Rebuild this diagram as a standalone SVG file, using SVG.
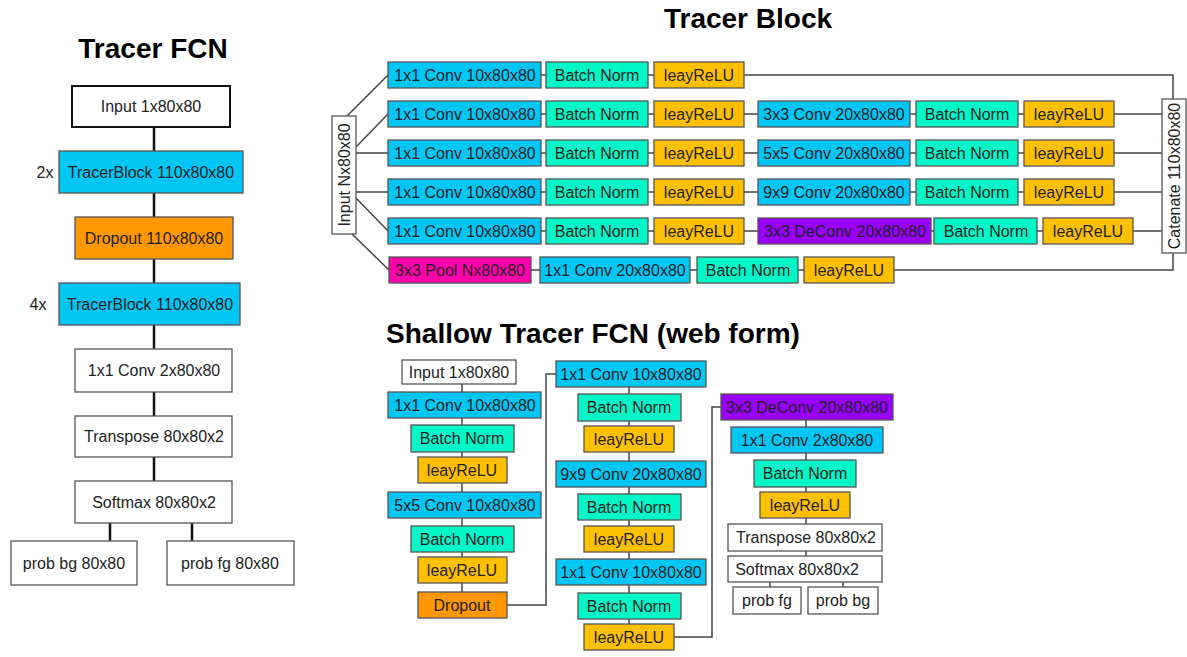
<svg xmlns="http://www.w3.org/2000/svg" width="1187" height="657" viewBox="0 0 1187 657">
<style>
text{font-family:"Liberation Sans",Arial,sans-serif;font-size:16px;fill:#222;text-anchor:middle}
.title{font-size:28px;font-weight:bold;fill:#000}
.n rect{stroke:#555;stroke-width:1.3}
.w{fill:#fff}.cy{fill:#00C6F6}.bn{fill:#00F8C8}.re{fill:#FFC000}.dr{fill:#FF9800}.po{fill:#FF00AA}.dc{fill:#9900FF}
.lc{fill:none;stroke:#111;stroke-width:2.5}
.c{fill:none;stroke:#444;stroke-width:1.5}
</style>
<rect width="1187" height="657" fill="#fff"/>
<text class="title" x="153" y="58">Tracer FCN</text>
<text class="title" x="748" y="28">Tracer Block</text>
<text class="title" x="593" y="343">Shallow Tracer FCN (web form)</text>

<g id="connectors">
<path class="lc" d="M154,127V151M154,193V217M154,259V283M154,325V349M154,392V416M154,457V481M110,523V541M192,523V541"/>
<path class="c" d="M347,116L388,75M356,147L388,114M356,153H388M356,192H388M356,198L388,231M352,234L389,270"/>
<path class="c" d="M541,75H546M648,75H654M744,75H1173V99M541,114H546M648,114H654M744,114H758M910,114H916M1018,114H1024M1114,114H1162M541,153H546M648,153H654M744,153H758M910,153H916M1018,153H1024M1114,153H1162M541,192H546M648,192H654M744,192H758M910,192H916M1018,192H1024M1114,192H1162M541,231H546M648,231H654M744,231H758M931,231H934M1037,231H1043M1133,231H1162M531,270H540M690,270H697M798,270H804M894,270H1173V253"/>
<path class="c" d="M462,384V392M462,418V425M462,452V457M462,483V492M462,518V526M462,552V557M462,583V592M507,605H546V374H556M629,387V394M629,421V426M629,452V461M629,487V494M629,520V526M629,552V559M629,585V593M629,619V624M674,637H712V407H721M806,420V427M806,453V460M806,487V492M806,518V524M806,551V556M770,582V587M843,582V587"/>
</g>

<g class="n">
<g id="fcn-input"><rect class="w" x="72" y="86" width="158" height="41" style="stroke:#111;stroke-width:2"/><text x="151" y="112">Input 1x80x80</text></g>
<g id="fcn-tb1"><rect class="cy" x="59" y="151" width="184" height="42"/><text x="151" y="178">TracerBlock 110x80x80</text><text x="45" y="178">2x</text></g>
<g id="fcn-dropout"><rect class="dr" x="75" y="217" width="158" height="42"/><text x="154" y="244">Dropout 110x80x80</text></g>
<g id="fcn-tb2"><rect class="cy" x="59" y="283" width="181" height="42"/><text x="150" y="310">TracerBlock 110x80x80</text><text x="38" y="310">4x</text></g>
<g id="fcn-conv"><rect class="w" x="75" y="349" width="157" height="43"/><text x="154" y="376">1x1 Conv 2x80x80</text></g>
<g id="fcn-transpose"><rect class="w" x="75" y="416" width="157" height="41"/><text x="154" y="442">Transpose 80x80x2</text></g>
<g id="fcn-softmax"><rect class="w" x="75" y="481" width="157" height="42"/><text x="154" y="508">Softmax 80x80x2</text></g>
<g id="fcn-probbg"><rect class="w" x="11" y="541" width="126" height="44"/><text x="74" y="569">prob bg 80x80</text></g>
<g id="fcn-probfg"><rect class="w" x="167" y="541" width="127" height="44"/><text x="230" y="569">prob fg 80x80</text></g>

<g id="tb-input"><rect class="w" x="332" y="116" width="24" height="118"/><text transform="translate(349.5,175) rotate(-90)">Input Nx80x80</text></g>
<g id="tb-catenate"><rect class="w" x="1162" y="99" width="24" height="154"/><text transform="translate(1179.5,176) rotate(-90)">Catenate 110x80x80</text></g>

<g id="tb-r1">
<rect class="cy" x="388" y="62" width="153" height="26"/><text x="465" y="81">1x1 Conv 10x80x80</text>
<rect class="bn" x="546" y="62" width="102" height="26"/><text x="597" y="81">Batch Norm</text>
<rect class="re" x="654" y="62" width="90" height="26"/><text x="699" y="81">leayReLU</text>
</g>
<g id="tb-r2">
<rect class="cy" x="388" y="101" width="153" height="26"/><text x="465" y="120">1x1 Conv 10x80x80</text>
<rect class="bn" x="546" y="101" width="102" height="26"/><text x="597" y="120">Batch Norm</text>
<rect class="re" x="654" y="101" width="90" height="26"/><text x="699" y="120">leayReLU</text>
<rect class="cy" x="758" y="101" width="152" height="26"/><text x="834" y="120">3x3 Conv 20x80x80</text>
<rect class="bn" x="916" y="101" width="102" height="26"/><text x="967" y="120">Batch Norm</text>
<rect class="re" x="1024" y="101" width="90" height="26"/><text x="1069" y="120">leayReLU</text>
</g>
<g id="tb-r3">
<rect class="cy" x="388" y="140" width="153" height="26"/><text x="465" y="159">1x1 Conv 10x80x80</text>
<rect class="bn" x="546" y="140" width="102" height="26"/><text x="597" y="159">Batch Norm</text>
<rect class="re" x="654" y="140" width="90" height="26"/><text x="699" y="159">leayReLU</text>
<rect class="cy" x="758" y="140" width="152" height="26"/><text x="834" y="159">5x5 Conv 20x80x80</text>
<rect class="bn" x="916" y="140" width="102" height="26"/><text x="967" y="159">Batch Norm</text>
<rect class="re" x="1024" y="140" width="90" height="26"/><text x="1069" y="159">leayReLU</text>
</g>
<g id="tb-r4">
<rect class="cy" x="388" y="179" width="153" height="26"/><text x="465" y="198">1x1 Conv 10x80x80</text>
<rect class="bn" x="546" y="179" width="102" height="26"/><text x="597" y="198">Batch Norm</text>
<rect class="re" x="654" y="179" width="90" height="26"/><text x="699" y="198">leayReLU</text>
<rect class="cy" x="758" y="179" width="152" height="26"/><text x="834" y="198">9x9 Conv 20x80x80</text>
<rect class="bn" x="916" y="179" width="102" height="26"/><text x="967" y="198">Batch Norm</text>
<rect class="re" x="1024" y="179" width="90" height="26"/><text x="1069" y="198">leayReLU</text>
</g>
<g id="tb-r5">
<rect class="cy" x="388" y="218" width="153" height="26"/><text x="465" y="237">1x1 Conv 10x80x80</text>
<rect class="bn" x="546" y="218" width="102" height="26"/><text x="597" y="237">Batch Norm</text>
<rect class="re" x="654" y="218" width="90" height="26"/><text x="699" y="237">leayReLU</text>
<rect class="dc" x="758" y="218" width="173" height="26"/><text x="845" y="237">3x3 DeConv 20x80x80</text>
<rect class="bn" x="934" y="218" width="103" height="26"/><text x="986" y="237">Batch Norm</text>
<rect class="re" x="1043" y="218" width="90" height="26"/><text x="1088" y="237">leayReLU</text>
</g>
<g id="tb-r6">
<rect class="po" x="389" y="257" width="142" height="26"/><text x="460" y="276">3x3 Pool Nx80x80</text>
<rect class="cy" x="540" y="257" width="150" height="26"/><text x="615" y="276">1x1 Conv 20x80x80</text>
<rect class="bn" x="697" y="257" width="101" height="26"/><text x="748" y="276">Batch Norm</text>
<rect class="re" x="804" y="257" width="90" height="26"/><text x="849" y="276">leayReLU</text>
</g>

<g id="st-col1">
<rect class="w" x="402" y="360" width="114" height="24"/><text x="459" y="378">Input 1x80x80</text>
<rect class="cy" x="388" y="392" width="153" height="26"/><text x="465" y="411">1x1 Conv 10x80x80</text>
<rect class="bn" x="411" y="425" width="103" height="27"/><text x="462" y="444">Batch Norm</text>
<rect class="re" x="418" y="457" width="89" height="26"/><text x="462" y="476">leayReLU</text>
<rect class="cy" x="388" y="492" width="153" height="26"/><text x="465" y="511">5x5 Conv 10x80x80</text>
<rect class="bn" x="411" y="526" width="103" height="26"/><text x="462" y="545">Batch Norm</text>
<rect class="re" x="418" y="557" width="89" height="26"/><text x="462" y="576">leayReLU</text>
<rect class="dr" x="418" y="592" width="89" height="26"/><text x="462" y="611">Dropout</text>
</g>
<g id="st-col2">
<rect class="cy" x="556" y="361" width="150" height="26"/><text x="631" y="380">1x1 Conv 10x80x80</text>
<rect class="bn" x="578" y="394" width="103" height="27"/><text x="629" y="413">Batch Norm</text>
<rect class="re" x="584" y="426" width="90" height="26"/><text x="629" y="445">leayReLU</text>
<rect class="cy" x="556" y="461" width="150" height="26"/><text x="631" y="480">9x9 Conv 20x80x80</text>
<rect class="bn" x="578" y="494" width="103" height="26"/><text x="629" y="513">Batch Norm</text>
<rect class="re" x="584" y="526" width="90" height="26"/><text x="629" y="545">leayReLU</text>
<rect class="cy" x="556" y="559" width="150" height="26"/><text x="631" y="578">1x1 Conv 10x80x80</text>
<rect class="bn" x="578" y="593" width="103" height="26"/><text x="629" y="612">Batch Norm</text>
<rect class="re" x="584" y="624" width="90" height="26"/><text x="629" y="643">leayReLU</text>
</g>
<g id="st-col3">
<rect class="dc" x="721" y="394" width="172" height="26"/><text x="807" y="413">3x3 DeConv 20x80x80</text>
<rect class="cy" x="731" y="427" width="152" height="26"/><text x="807" y="446">1x1 Conv 2x80x80</text>
<rect class="bn" x="754" y="460" width="102" height="27"/><text x="805" y="479">Batch Norm</text>
<rect class="re" x="760" y="492" width="90" height="26"/><text x="805" y="511">leayReLU</text>
<rect class="w" x="728" y="524" width="154" height="27"/><text x="806" y="543">Transpose 80x80x2</text>
<rect class="w" x="728" y="556" width="154" height="26"/><text x="797" y="575">Softmax 80x80x2</text>
<rect class="w" x="733" y="587" width="68" height="27"/><text x="767" y="606">prob fg</text>
<rect class="w" x="808" y="587" width="70" height="27"/><text x="843" y="606">prob bg</text>
</g>
</g>
</svg>
